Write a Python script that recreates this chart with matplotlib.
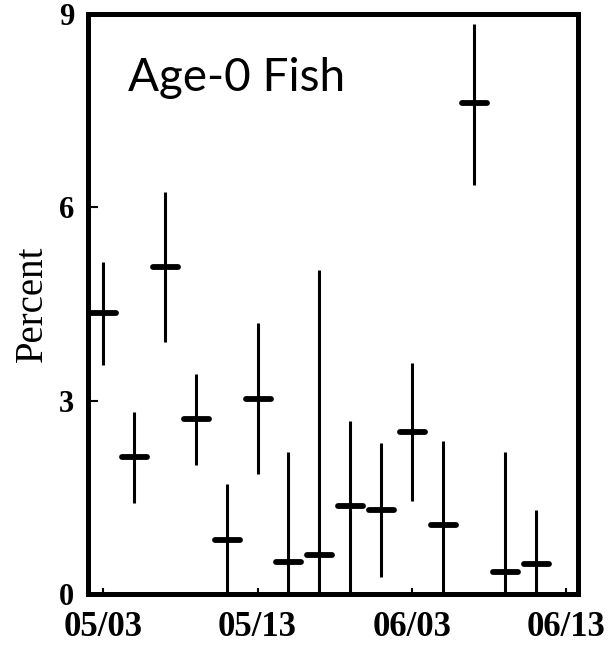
#!/usr/bin/env python3
import numpy as np
import matplotlib
matplotlib.use("Agg")
import matplotlib.pyplot as plt
from matplotlib.markers import MarkerStyle
from matplotlib import font_manager

# ---------------- Data ----------------
sample_idx = list(range(15))
mean_pct = [4.36, 2.13, 5.07, 2.72, 0.83, 3.03, 0.49, 0.60, 1.36, 1.31, 2.52, 1.07, 7.62, 0.34, 0.46]
upper_pct = [5.15, 2.83, 6.23, 3.42, 1.70, 4.20, 2.20, 5.03, 2.69, 2.35, 3.59, 2.37, 8.85, 2.21, 1.31]
lower_pct = [3.56, 1.41, 3.91, 2.00, 0.00, 1.86, 0.00, 0.00, 0.00, 0.26, 1.44, 0.00, 6.34, 0.00, 0.00]

xtick_pos = [0, 5, 10, 15]
xtick_labels = ["05/03", "05/13", "06/03", "06/13"]
ytick_pos = [0, 3, 6, 9]

# narrow sans for the panel title if available
names = {f.name for f in font_manager.fontManager.ttflist}
if "Liberation Sans Narrow" in names:
    title_font, title_size = "Liberation Sans Narrow", 38
else:
    title_font, title_size = "Lato", 33

# ---------------- Plot ----------------
fig = plt.figure(figsize=(6.13, 6.46), dpi=100)
ax = fig.add_axes([0.1436, 0.0805, 0.799, 0.898])

ax.vlines(sample_idx, lower_pct, upper_pct, color="black", linewidth=2.2)
bar = MarkerStyle("_", capstyle="round")
ax.plot(sample_idx, mean_pct, linestyle="none", marker=bar,
        markersize=18, markeredgewidth=4.2, color="black")

ax.set_xlim(-0.49, 15.37)
ax.set_ylim(0, 9)

ax.set_xticks(xtick_pos)
ax.set_xticklabels(xtick_labels, family="Liberation Serif", weight="bold", size=25)
ax.set_yticks(ytick_pos)
ax.set_yticklabels([str(v) for v in ytick_pos], family="Liberation Serif",
                   weight="bold", size=22)

ax.tick_params(axis="y", direction="in", length=7, width=1.5, pad=10)
ax.tick_params(axis="x", direction="in", length=4, width=1.5, pad=12)

for s in ax.spines.values():
    s.set_linewidth(3.6)

ax.set_ylabel("Percent", family="Liberation Serif", fontsize=28, labelpad=6)

ax.text(0.082, 0.925, "Age-0 Fish", transform=ax.transAxes,
        family=title_font, fontsize=title_size, va="top", ha="left")

fig.savefig("out.png", dpi=100)
